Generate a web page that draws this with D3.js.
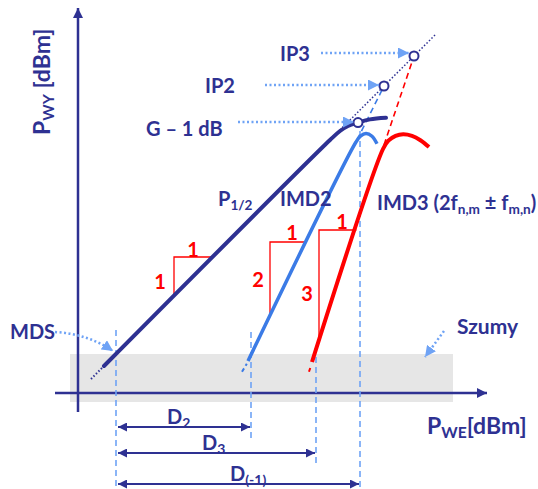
<!DOCTYPE html>
<html lang="pl">
<head>
<meta charset="utf-8">
<title>Charakterystyka P_WY(P_WE)</title>
<script src="https://d3js.org/d3.v7.min.js"></script>
<style>
  body { margin: 0; background: #fff; }
  svg text { font-family: Lato, "Open Sans", sans-serif; font-weight: bold; }
</style>
</head>
<body>
<div id="chart"></div>
<script>
// ---- data (input/output power, arbitrary dB units) ----
// fundamental P1/2, solid part with compression
var fundamental = [[6.5,6.75],[63,63.25],[65.5,65.5],[67.5,66.75],[70,67.6],[73,68.4],[77,68.8]];
var fundamentalLow = [[3.25,3.5],[6.5,6.75]];          // dotted below MDS
var fundamentalExt = [[63,63.25],[89.5,89.75]];        // dotted extrapolation
// IMD2
var imd2 = [[42.5,8.0],[69.5,62.75],[70.6,64.2],[72,64.9],[73.5,64.2],[74.75,62.3]];
var imd2Low = [[41,5.3],[42.2,7.3]];
var imd2Ext = [[69.75,63.25],[76.5,76.75]];
// IMD3
var imd3 = [[58.5,7.75],[76.25,61],[77.6,63.1],[79.4,64.3],[81.3,64.7],[83.5,64.3],[85.6,63.2],[87.75,61.5]];
var imd3Low = [[57.75,5.3],[58.2,6.7]];
var imd3Ext = [[76.5,62],[84,84.25]];
// characteristic points
var points = [
  {name: "G – 1 dB", x: 70, y: 67.6},
  {name: "IP2", x: 76.5, y: 76.75},
  {name: "IP3", x: 84, y: 84.25}
];
// noise floor band
var noiseBand = {x0: -2, x1: 93.75, y0: -2.25, y1: 9.75};
// vertical dashed markers: x, y top, y bottom
var markers = [[9.5,15.75,-24],[43.25,15.25,-11.25],[59.5,9,-18.5],[70.5,65.5,-24]];
// dynamic ranges: name, subscript, x from, x to, y
var ranges = [["D","2",10,43,-8.5],["D","3",10,59.25,-15],["D","(-1)",10,70.25,-22.75]];
// slope triangles: x left, x right, y bottom, y top, rise, run
var triangles = [[24,33.75,24.5,34,"1","1"],[48,57.25,19.5,37.75,"2","1"],[60.25,69.6,14,40.75,"3","1"]];

var W = 538, H = 489;
var navy = "#2E3192", blue = "#3B7BE6", light = "#6FA3F5", red = "#FF0000";

var svg = d3.select("#chart").append("svg").attr("width", W).attr("height", H);

// scales: 4 px per unit, origin at the axes crossing
var x = d3.scaleLinear().domain([0, 100]).range([78, 478]);
var y = d3.scaleLinear().domain([0, 100]).range([393, -7]);

var defs = svg.append("defs");
function marker(id, color, w, h, reverse) {
  defs.append("marker").attr("id", id)
    .attr("viewBox", "0 0 10 10").attr("refX", reverse ? 0 : 10).attr("refY", 5)
    .attr("markerUnits", "userSpaceOnUse").attr("markerWidth", w).attr("markerHeight", h)
    .attr("orient", "auto")
    .append("path").attr("d", reverse ? "M10,0L0,5L10,10z" : "M0,0L10,5L0,10z").attr("fill", color);
}
marker("axisHead", navy, 10, 10);
marker("dimEnd", navy, 9, 9);
marker("dimStart", navy, 9, 9, true);
marker("lightHead", light, 11, 11);

var line = d3.line().x(function(d) { return x(d[0]); }).y(function(d) { return y(d[1]); });
var curve = d3.line().x(function(d) { return x(d[0]); }).y(function(d) { return y(d[1]); }).curve(d3.curveCatmullRom);

// noise band
svg.append("rect")
  .attr("x", x(noiseBand.x0)).attr("y", y(noiseBand.y1))
  .attr("width", x(noiseBand.x1) - x(noiseBand.x0)).attr("height", y(noiseBand.y0) - y(noiseBand.y1))
  .attr("fill", "#E6E6E6");

// axes
svg.append("line").attr("x1", x(-5.75)).attr("x2", x(102.25)).attr("y1", y(0)).attr("y2", y(0))
  .attr("stroke", navy).attr("stroke-width", 2.5).attr("marker-end", "url(#axisHead)");
svg.append("line").attr("x1", x(0)).attr("x2", x(0)).attr("y1", y(-4.75)).attr("y2", y(96.25))
  .attr("stroke", navy).attr("stroke-width", 2.5).attr("marker-end", "url(#axisHead)");

// vertical dashed markers
svg.selectAll(".marker").data(markers).enter().append("line")
  .attr("x1", function(d) { return x(d[0]); }).attr("x2", function(d) { return x(d[0]); })
  .attr("y1", function(d) { return y(d[1]); }).attr("y2", function(d) { return y(d[2]); })
  .attr("stroke", light).attr("stroke-width", 1.6).attr("stroke-dasharray", "6,4");

// extrapolations
svg.append("path").attr("d", line(fundamentalExt)).attr("fill", "none")
  .attr("stroke", navy).attr("stroke-width", 1.5).attr("stroke-dasharray", "1.5,2");
svg.append("path").attr("d", line(imd2Ext)).attr("fill", "none")
  .attr("stroke", blue).attr("stroke-width", 1.6).attr("stroke-dasharray", "6,4");
svg.append("path").attr("d", line(imd3Ext)).attr("fill", "none")
  .attr("stroke", red).attr("stroke-width", 1.6).attr("stroke-dasharray", "6,4");

// low ends
svg.append("path").attr("d", line(fundamentalLow)).attr("fill", "none")
  .attr("stroke", navy).attr("stroke-width", 2).attr("stroke-dasharray", "1.5,2");
svg.append("path").attr("d", line(imd2Low)).attr("fill", "none")
  .attr("stroke", blue).attr("stroke-width", 2).attr("stroke-dasharray", "4,3");
svg.append("path").attr("d", line(imd3Low)).attr("fill", "none")
  .attr("stroke", red).attr("stroke-width", 2).attr("stroke-dasharray", "4,3");

// slope triangles
triangles.forEach(function(t) {
  svg.append("path")
    .attr("d", "M" + x(t[0]) + "," + y(t[2]) + "V" + y(t[3]) + "H" + x(t[1]))
    .attr("fill", "none").attr("stroke", red).attr("stroke-width", 1.3);
});

// main curves
svg.append("path").attr("d", curve(fundamental)).attr("fill", "none")
  .attr("stroke", navy).attr("stroke-width", 4).attr("stroke-linecap", "round");
svg.append("path").attr("d", curve(imd2)).attr("fill", "none")
  .attr("stroke", blue).attr("stroke-width", 3.5).attr("stroke-linecap", "butt");
svg.append("path").attr("d", curve(imd3)).attr("fill", "none")
  .attr("stroke", red).attr("stroke-width", 4).attr("stroke-linecap", "butt");

// characteristic points
svg.selectAll(".pt").data(points).enter().append("circle")
  .attr("cx", function(d) { return x(d.x); }).attr("cy", function(d) { return y(d.y); })
  .attr("r", 4.5).attr("fill", "#fff").attr("stroke", navy).attr("stroke-width", 2);

// dotted callout arrows
function callout(d) {
  svg.append("path").attr("d", d).attr("fill", "none")
    .attr("stroke", light).attr("stroke-width", 2.5).attr("stroke-dasharray", "2,2.5")
    .attr("marker-end", "url(#lightHead)");
}
callout("M321,53H" + (x(points[2].x) - 5));
callout("M265,85H" + (x(points[1].x) - 5));
callout("M238,122H" + (x(points[0].x) - 4));
callout("M55,332Q88,334 " + (x(9.5) - 3) + "," + (y(9.75) - 3));
callout("M444,331L425,357");

// dynamic range arrows
svg.selectAll(".dim").data(ranges).enter().append("line")
  .attr("x1", function(d) { return x(d[2]); }).attr("x2", function(d) { return x(d[3]); })
  .attr("y1", function(d) { return y(d[4]); }).attr("y2", function(d) { return y(d[4]); })
  .attr("stroke", navy).attr("stroke-width", 2)
  .attr("marker-start", "url(#dimStart)").attr("marker-end", "url(#dimEnd)");

var lbl = svg.selectAll(".dimlbl").data(ranges).enter().append("text")
  .attr("x", function(d, i) { return [167, 202, 230][i]; })
  .attr("y", function(d) { return y(d[4]) - 3; })
  .attr("fill", navy).attr("font-size", 20);
lbl.append("tspan").text(function(d) { return d[0]; });
lbl.append("tspan").attr("font-size", 14).attr("dy", 4).text(function(d) { return d[1]; });

// triangle labels
svg.selectAll(".rise").data(triangles).enter().append("text")
  .attr("x", function(d, i) { return [160, 258, 307][i]; })
  .attr("y", function(d, i) { return [281, 279, 293][i]; })
  .attr("text-anchor", "middle").attr("dominant-baseline", "central")
  .attr("fill", red).attr("font-size", 20).text(function(d) { return d[4]; });
svg.selectAll(".run").data(triangles).enter().append("text")
  .attr("x", function(d, i) { return [193, 292, 342][i]; })
  .attr("y", function(d, i) { return [249, 232, 221][i]; })
  .attr("text-anchor", "middle").attr("dominant-baseline", "central")
  .attr("fill", red).attr("font-size", 20).text(function(d) { return d[5]; });

// text labels
function label(px, py, parts, size) {
  var t = svg.append("text").attr("x", px).attr("y", py).attr("fill", navy).attr("font-size", size);
  parts.forEach(function(p) {
    var s = t.append("tspan").text(p[0]);
    if (p[1] === "sub") s.attr("font-size", size * 0.68).attr("dy", 4);
    if (p[1] === "up") s.attr("dy", -4);
  });
  return t;
}
label(280, 61, [["IP3"]], 20);
label(205, 93, [["IP2"]], 20);
label(146, 136, [["G – 1 dB"]], 20);
label(218, 206, [["P"], ["1/2", "sub"]], 20);
label(280, 206, [["IMD2"]], 20);
label(377, 210, [["IMD3 (2f"], ["n,m", "sub"], [" ± f", "up"], ["m,n", "sub"], [")", "up"]], 20);
label(10, 339, [["MDS"]], 20);
label(457, 334, [["Szumy"]], 21);
label(427, 434, [["P"], ["WE", "sub"], ["[dBm]", "up"]], 23);
label(0, 0, [["P"], ["WY", "sub"], [" [dBm]", "up"]], 23)
  .attr("transform", "translate(50,135) rotate(-90)");
</script>
</body>
</html>
